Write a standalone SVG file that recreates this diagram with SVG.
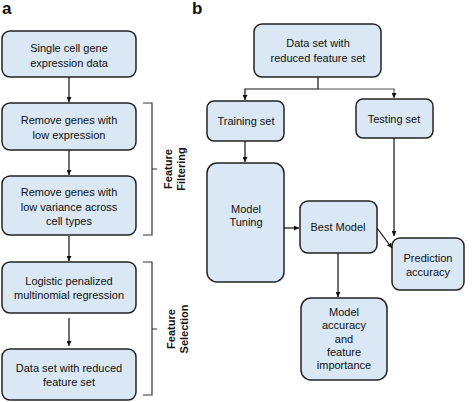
<svg xmlns="http://www.w3.org/2000/svg" width="474" height="402" viewBox="0 0 474 402">
<defs>
<marker id="ah" viewBox="0 0 10 10" refX="10" refY="5" markerWidth="5" markerHeight="5" orient="auto" markerUnits="userSpaceOnUse">
<path d="M0,0 L10,5 L0,10 z" fill="#111"/>
</marker>
<style>
.box{fill:#dae7f4;stroke:#222;stroke-width:1.5}
.t{font-family:"Liberation Sans",Arial,sans-serif;font-size:11px;fill:#111;text-anchor:middle}
.lab{font-family:"Liberation Sans",Arial,sans-serif;font-size:17px;font-weight:bold;fill:#111}
.c{stroke:#111;stroke-width:1.2;fill:none}
.br{stroke:#333;stroke-width:1.2;fill:none}
</style>
</defs>
<rect width="474" height="402" fill="#fff"/>
<text class="lab" x="2" y="14">a</text>
<text class="lab" x="192" y="14">b</text>

<g id="a1"><rect class="box" x="2" y="31" width="134" height="46" rx="8"/>
<text class="t" x="69" y="52">Single cell gene</text><text class="t" x="69" y="67">expression data</text></g>
<g id="a2"><rect class="box" x="2" y="103" width="134" height="47" rx="8"/>
<text class="t" x="69" y="124">Remove genes with</text><text class="t" x="69" y="139">low expression</text></g>
<g id="a3"><rect class="box" x="2" y="176" width="134" height="59" rx="8"/>
<text class="t" x="69" y="196">Remove genes with</text><text class="t" x="69" y="211">low variance across</text><text class="t" x="69" y="225">cell types</text></g>
<g id="a4"><rect class="box" x="2" y="262" width="134" height="51" rx="8"/>
<text class="t" x="69" y="285">Logistic penalized</text><text class="t" x="69" y="299">multinomial regression</text></g>
<g id="a5"><rect class="box" x="2" y="349" width="134" height="51" rx="8"/>
<text class="t" x="69" y="372">Data set with reduced</text><text class="t" x="69" y="386">feature set</text></g>

<g id="brackets">
<path class="br" d="M143,103 H152 V235 H143 M152,169 H157"/>
<path class="br" d="M143,262 H152 V395 H143 M152,329 H157"/>
<text class="t" transform="translate(172,169) rotate(-90)" style="font-weight:bold">Feature</text>
<text class="t" transform="translate(185,169) rotate(-90)" style="font-weight:bold">Filtering</text>
<text class="t" transform="translate(175,329) rotate(-90)" style="font-weight:bold">Feature</text>
<text class="t" transform="translate(188,329) rotate(-90)" style="font-weight:bold">Selection</text>
</g>

<g id="b1"><rect class="box" x="254" y="24" width="127" height="53" rx="8"/>
<text class="t" x="318" y="47">Data set with</text><text class="t" x="318" y="62">reduced feature set</text></g>
<g id="b2"><rect class="box" x="207" y="101" width="77" height="40" rx="7"/>
<text class="t" x="246" y="125">Training set</text></g>
<g id="b3"><rect class="box" x="356" y="99" width="77" height="39" rx="7"/>
<text class="t" x="394" y="123">Testing set</text></g>
<g id="b4"><rect class="box" x="207" y="163" width="77" height="119" rx="10"/>
<text class="t" x="246" y="213">Model</text><text class="t" x="246" y="226">Tuning</text></g>
<g id="b5"><rect class="box" x="300" y="201" width="77" height="52" rx="8"/>
<text class="t" x="338" y="231">Best Model</text></g>
<g id="b6"><rect class="box" x="392" y="238" width="72" height="52" rx="8"/>
<text class="t" x="428" y="262">Prediction</text><text class="t" x="428" y="276">accuracy</text></g>
<g id="b7"><rect class="box" x="301" y="298" width="86" height="82" rx="10"/>
<text class="t" x="344" y="316">Model</text><text class="t" x="344" y="329">accuracy</text><text class="t" x="344" y="343">and</text><text class="t" x="344" y="356">feature</text><text class="t" x="344" y="369">importance</text></g>

<g id="connectors">
<path class="c" d="M69,77 V102" marker-end="url(#ah)"/>
<path class="c" d="M69,150 V175" marker-end="url(#ah)"/>
<path class="c" d="M69,236 V261" marker-end="url(#ah)"/>
<path class="c" d="M69,318 V346" marker-end="url(#ah)"/>
<path class="c" d="M318,77 V89 H245 V100" marker-end="url(#ah)"/>
<path class="c" d="M318,89 H394 V98" marker-end="url(#ah)" style="stroke:#555"/>
<path class="c" d="M245,141 V162" marker-end="url(#ah)"/>
<path class="c" d="M284,228 H299" marker-end="url(#ah)"/>
<path class="c" d="M338,253 V297" marker-end="url(#ah)"/>
<path class="c" d="M394,138 V236" marker-end="url(#ah)"/>
<path class="c" d="M377,228 L392,248" marker-end="url(#ah)"/>
</g>
</svg>
